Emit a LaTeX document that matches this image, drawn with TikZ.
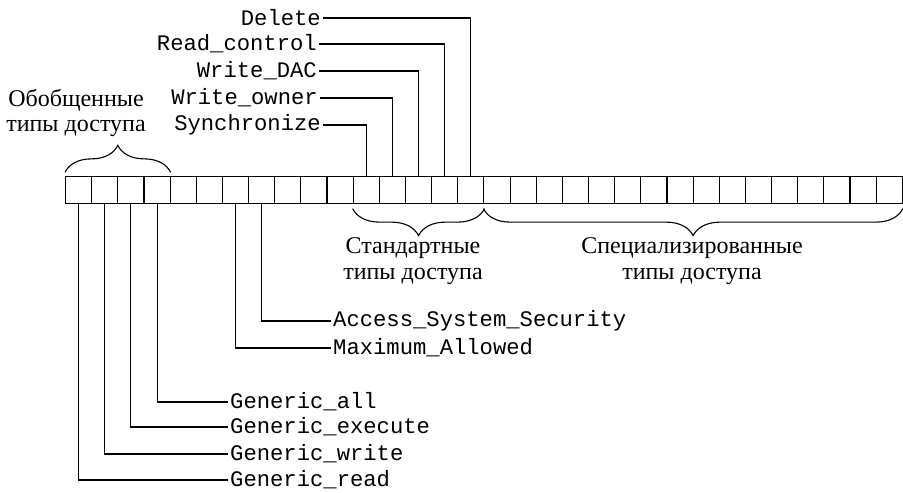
\documentclass[tikz,border=0pt]{standalone}
\usepackage{fontspec}
\setmainfont{Liberation Serif}
\setmonofont{Liberation Mono}
\usetikzlibrary{positioning,decorations.pathreplacing}

\begin{document}
\begin{tikzpicture}[x=1pt,y=-1pt]
\tikzstyle{cell}=[rectangle,draw,line width=1.1pt,minimum size=26.15pt,inner sep=0pt]
\tikzstyle{flag}=[font=\fontsize{22.2}{24}\selectfont\ttfamily,inner sep=2pt]
\tikzstyle{grp}=[font=\fontsize{24}{25.5}\selectfont,align=center,inner sep=0pt]
\tikzstyle{lead}=[line width=1.1pt]
\tikzstyle{brc}=[line width=1.1pt,decorate,decoration={brace,amplitude=27pt}]
\useasboundingbox (0,0) rectangle (903,493);
% access mask cells
\foreach \i in {0,...,31}
  \node[cell] (c\i) at (78.6+26.15*\i,190) {};
% standard rights (top)
\node[flag,anchor=east] (del) at (323,18) {Delete};
\node[flag,anchor=east] (rdc) at (319,44) {Read\_control};
\node[flag,anchor=east] (wdac) at (319,71) {Write\_DAC};
\node[flag,anchor=east] (wown) at (320,98) {Write\_owner};
\node[flag,anchor=east] (sync) at (323,125) {Synchronize};
\draw[lead] (del.east) -| (c15.north);
\draw[lead] (rdc.east) -| (c14.north);
\draw[lead] (wdac.east) -| (c13.north);
\draw[lead] (wown.east) -| (c12.north);
\draw[lead] (sync.east) -| (c11.north);
% special bits (bottom)
\node[flag,anchor=west] (acc) at (331,321) {Access\_System\_Security};
\node[flag,anchor=west] (maxa) at (331,348) {Maximum\_Allowed};
\draw[lead] (c7.south) |- (acc.west);
\draw[lead] (c6.south) |- (maxa.west);
% generic rights (bottom)
\node[flag,anchor=west] (gall) at (228,402) {Generic\_all};
\node[flag,anchor=west] (gexe) at (228,427) {Generic\_execute};
\node[flag,anchor=west] (gwr) at (228,454) {Generic\_write};
\node[flag,anchor=west] (grd) at (228,480) {Generic\_read};
\draw[lead] (c3.south) |- (gall.west);
\draw[lead] (c2.south) |- (gexe.west);
\draw[lead] (c1.south) |- (gwr.west);
\draw[lead] (c0.south) |- (grd.west);
% groups
\draw[brc] (c0.north west)++(0,-4) -- ([yshift=4pt]c3.north east);
\node[grp] (gen) at (76,113) {Обобщенные\\типы доступа};
\draw[brc] ([yshift=-5pt]c15.south east) -- ([yshift=-5pt]c11.south west);
\node[grp] (std) at (413,261) {Стандартные\\типы доступа};
\draw[brc] ([yshift=-5pt]c31.south east) -- ([yshift=-5pt]c16.south west);
\node[grp] (spc) at (692,261) {Специализированные\\типы доступа};
\end{tikzpicture}
\end{document}
